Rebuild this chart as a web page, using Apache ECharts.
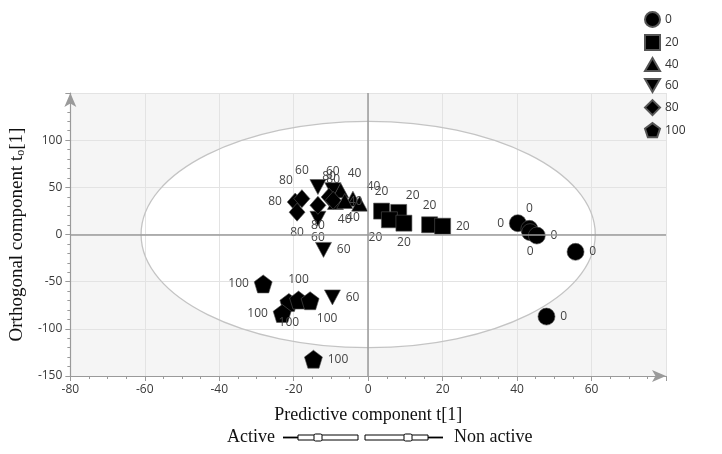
<!DOCTYPE html>
<html><head><meta charset="utf-8">
<script src="https://cdn.jsdelivr.net/npm/echarts@6/dist/echarts.min.js"></script>
<style>html,body{margin:0;padding:0;background:#fff}#c{width:722px;height:454px}</style>
</head><body><div id="c"></div>
<script>
// ---- data ----
const groupNames = ['0', '20', '40', '60', '80', '100'];
const g0   = [[40.2, 12.0], [43.3, 6.0], [43.5, 2.5], [45.3, -1.1], [55.7, -18.4], [47.9, -87.0]];
const g20  = [[3.6, 24.8], [8.2, 23.4], [5.7, 15.6], [9.6, 12.0], [16.5, 10.3], [20.0, 8.8]];
const g40  = [[-7.4, 46.8], [-4.1, 38.0], [-2.3, 32.7], [-8.8, 34.5], [-6.3, 35.5]];
const g60  = [[-13.5, 50.3], [-9.5, 47.0], [-13.5, 16.7], [-12.0, -16.3], [-9.6, -66.7]];
const g80  = [[-19.6, 34.4], [-17.8, 38.0], [-19.1, 23.7], [-13.5, 30.9], [-10.5, 39.7], [-9.4, 36.2]];
const g100 = [[-28.2, -52.4], [-21.3, -72.0], [-18.7, -69.5], [-15.6, -70.2], [-23.1, -83.7], [-14.7, -132.2]];
// label side of each point's text
const side0   = ['left', 'top', 'bottom', 'right', 'right', 'right'];
const side20  = ['top', 'tr', 'bl', 'bottom', 'top', 'right'];
const side40  = ['tr', 'bottom', 'tr', 'right', 'bottom'];
const side60  = ['tl', 'top', 'bottom', 'right', 'right'];
const side80  = ['left', 'tl', 'bottom', 'bottom', 'top', 'top'];
const side100 = ['left', 'bottom', 'top', 'br', 'left', 'right'];
// axes
const xMin = -80, xMax = 80, xStep = 20;
const yMin = -150, yMax = 150, yStep = 50;
// Hotelling ellipse semi-axes (in data units)
const ellipseA = 61, ellipseB = 120;

const SIDE = {
  top: {position: 'top'}, bottom: {position: 'bottom'},
  left: {position: 'left'}, right: {position: 'right'},
  tr: {position: 'top', offset: [14, 2]}, tl: {position: 'top', offset: [-16, 2]},
  bl: {position: 'bottom', offset: [-14, -2]}, br: {position: 'bottom', offset: [17, -2]}
};
const PENTA = 'path://M50,0 L97.6,34.5 L79.4,90.5 L20.6,90.5 L2.4,34.5 Z';
const DOWN = 'path://M0,0 L10,0 L5,8.7 Z';
const UP = 'path://M5,0 L10,8.7 L0,8.7 Z';
const symbols = ['circle', 'rect', UP, DOWN, 'diamond', PENTA];
const sizes = [17, 16, [16, 15], [16, 15], [16, 18], 18];
const allData = [g0, g20, g40, g60, g80, g100];
const allSides = [side0, side20, side40, side60, side80, side100];

const FONT = 'Open Sans';
const series = allData.map((d, i) => ({
  name: groupNames[i], type: 'scatter', z: 3,
  symbol: symbols[i], symbolSize: sizes[i],
  itemStyle: {color: '#000', borderColor: '#555', borderWidth: 0.6, opacity: 1},
  label: {show: true, formatter: groupNames[i], color: '#444', fontSize: 12, fontFamily: FONT, distance: 5},
  emphasis: {disabled: true},
  data: d.map((p, k) => ({value: p, label: Object.assign({}, SIDE[allSides[i][k]])}))
}));
series.push({
  type: 'scatter', data: [], z: 1, silent: true,
  markLine: {silent: true, symbol: 'none', animation: false,
    label: {show: false},
    lineStyle: {color: '#9a9a9a', width: 1.5, type: 'solid'},
    data: [{xAxis: 0}, {yAxis: 0}]}
});

const chart = echarts.init(document.getElementById('c'), null, {renderer: 'canvas'});
const axisCommon = {
  axisLine: {show: true, onZero: false, symbol: ['none', 'arrow'], symbolSize: [9, 14], lineStyle: {color: '#9a9a9a', width: 1.2}},
  axisTick: {show: true, length: 5, lineStyle: {color: '#9a9a9a'}},
  minorTick: {show: true, length: 3, lineStyle: {color: '#9a9a9a'}},
  splitLine: {show: true, lineStyle: {color: '#e3e3e3', width: 1}},
  axisLabel: {color: '#3a3a3a', fontSize: 12, fontFamily: FONT, showMaxLabel: false}
};
chart.setOption({
  animation: false,
  grid: {left: 66, right: 56, top: 93, bottom: 78, containLabel: false},
  xAxis: Object.assign({}, axisCommon, {
    type: 'value', min: xMin, max: xMax, interval: xStep,
    minorTick: Object.assign({}, axisCommon.minorTick, {splitNumber: 4}),
    name: 'Predictive component t[1]', nameLocation: 'middle', nameGap: 30,
    nameTextStyle: {fontFamily: 'Liberation Serif', fontSize: 18, color: '#111'},
    axisLabel: Object.assign({}, axisCommon.axisLabel, {margin: 8})
  }),
  yAxis: Object.assign({}, axisCommon, {
    type: 'value', min: yMin, max: yMax, interval: yStep,
    minorTick: Object.assign({}, axisCommon.minorTick, {splitNumber: 5}),
    name: '{a|Orthogonal component t}{s|o}{a|[1]}', nameLocation: 'middle', nameGap: 31, nameRotate: 90,
    nameTextStyle: {rich: {
      a: {fontFamily: 'Liberation Serif', fontSize: 19, color: '#111'},
      s: {fontFamily: 'Liberation Serif', fontSize: 12, color: '#111', verticalAlign: 'bottom', padding: [6, 0, 0, 0]}
    }},
    axisLabel: Object.assign({}, axisCommon.axisLabel, {margin: 8})
  }),
  legend: {
    orient: 'vertical', left: 639, top: 6, itemWidth: 15, itemHeight: 15, itemGap: 6,
    textStyle: {fontSize: 12, color: '#333', fontFamily: FONT},
    data: groupNames, selectedMode: false
  },
  series: series
});

const p0 = chart.convertToPixel({gridIndex: 0}, [0, 0]);
const pa = chart.convertToPixel({gridIndex: 0}, [ellipseA, ellipseB]);
const pl = chart.convertToPixel({gridIndex: 0}, [xMin, yMax]);
const pr = chart.convertToPixel({gridIndex: 0}, [xMax, yMin]);
const rx = pa[0] - p0[0], ry = p0[1] - pa[1];
const serif = 'Liberation Serif';
chart.setOption({
  graphic: [
    {type: 'rect', z: -20, silent: true, shape: {x: pl[0], y: pl[1], width: pr[0] - pl[0], height: pr[1] - pl[1]}, style: {fill: '#f5f5f5'}},
    {type: 'ellipse', z: -10, silent: true, shape: {cx: p0[0], cy: p0[1], rx: rx, ry: ry}, style: {fill: '#fff'}},
    {type: 'ellipse', z: 1, silent: true, shape: {cx: p0[0], cy: p0[1], rx: rx, ry: ry}, style: {fill: null, stroke: '#c4c4c4', lineWidth: 1.3}},
    {type: 'text', left: 227, top: 428, style: {text: 'Active', font: '18px ' + serif, fill: '#111'}},
    {type: 'text', left: 454, top: 428, style: {text: 'Non active', font: '18px ' + serif, fill: '#111'}},
    {type: 'line', shape: {x1: 283, y1: 437.5, x2: 298, y2: 437.5}, style: {stroke: '#000', lineWidth: 1.8}},
    {type: 'rect', shape: {x: 298, y: 435, width: 60, height: 5}, style: {fill: '#fff', stroke: '#000', lineWidth: 1}},
    {type: 'rect', shape: {x: 314, y: 434, width: 8, height: 7, r: 1.5}, style: {fill: '#fff', stroke: '#000', lineWidth: 1}},
    {type: 'rect', shape: {x: 365, y: 435, width: 63, height: 5}, style: {fill: '#fff', stroke: '#000', lineWidth: 1}},
    {type: 'rect', shape: {x: 404, y: 434, width: 8, height: 7, r: 1.5}, style: {fill: '#fff', stroke: '#000', lineWidth: 1}},
    {type: 'line', shape: {x1: 428, y1: 437.5, x2: 443, y2: 437.5}, style: {stroke: '#000', lineWidth: 1.8}}
  ]
});
</script></body></html>
